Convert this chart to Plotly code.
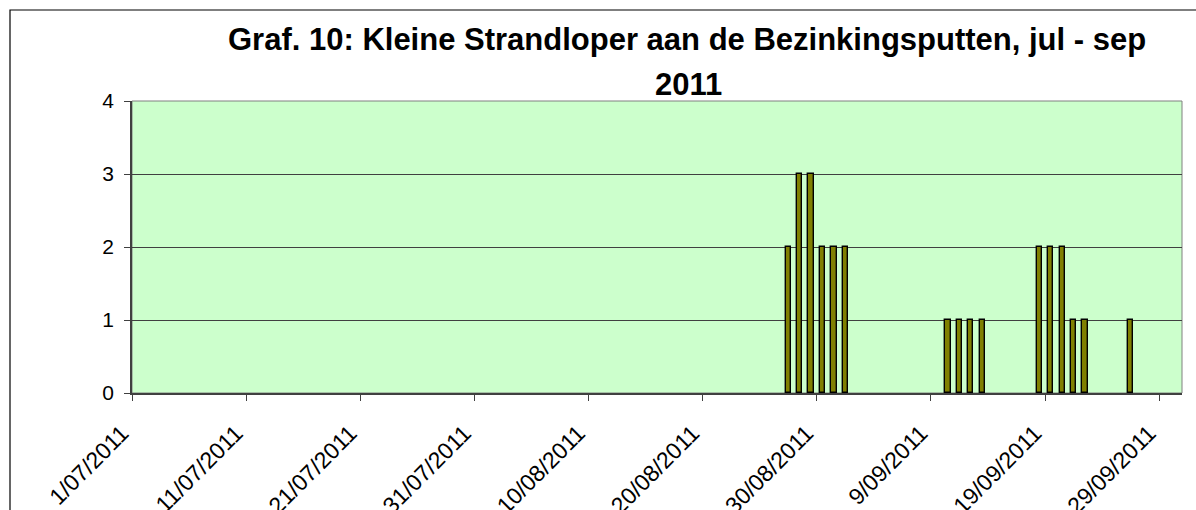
import plotly.graph_objects as go

# ---- data ----
dates = ["2011-08-27", "2011-08-28", "2011-08-29", "2011-08-30", "2011-08-31", "2011-09-01",
         "2011-09-10", "2011-09-11", "2011-09-12", "2011-09-13",
         "2011-09-18", "2011-09-19", "2011-09-20", "2011-09-21", "2011-09-22",
         "2011-09-26"]
counts = [2, 3, 3, 2, 2, 2,
          1, 1, 1, 1,
          2, 2, 2, 1, 1,
          1]
tick_dates = ["2011-07-01", "2011-07-11", "2011-07-21", "2011-07-31", "2011-08-10",
              "2011-08-20", "2011-08-30", "2011-09-09", "2011-09-19", "2011-09-29"]
tick_labels = ["1/07/2011", "11/07/2011", "21/07/2011", "31/07/2011", "10/08/2011",
               "20/08/2011", "30/08/2011", "9/09/2011", "19/09/2011", "29/09/2011"]
title_line1 = "Graf. 10: Kleine Strandloper aan de Bezinkingsputten, jul - sep"
title_line2 = "2011"

W, H = 1196, 510
L, R, T, B = 132, 1182, 101, 393


def px_x(p):
    return (p - L) / (R - L)


def px_y(p):
    return (B - p) / (B - T)


DAY_MS = 86400000
FONT = "Liberation Sans, Arial, sans-serif"

fig = go.Figure()
fig.add_trace(go.Bar(
    x=dates, y=counts,
    xperiod=DAY_MS, xperiodalignment="middle",
    width=0.46 * DAY_MS,
    marker=dict(color="#808000", line=dict(color="#000000", width=1.4)),
    showlegend=False,
))

fig.update_layout(
    width=W, height=H,
    margin=dict(l=L, r=W - R, t=T, b=H - B, pad=0, autoexpand=False),
    paper_bgcolor="white",
    plot_bgcolor="#CCFFCC",
    font=dict(family=FONT, color="black"),
    bargap=0,
    xaxis=dict(
        type="date", automargin=False,
        range=["2011-07-01", "2011-10-01"],
        tickmode="array", tickvals=tick_dates, ticktext=tick_labels,
        tickangle=-45, tickfont=dict(size=23, family=FONT),
        ticks="outside", ticklen=6, tickcolor="#404040", tickwidth=1,
        ticklabelstandoff=10, ticklabelshift=-10,
        showline=True, linecolor="#404040", linewidth=1.5,
        showgrid=False, zeroline=False,
    ),
    yaxis=dict(
        automargin=False,
        range=[0, 4], tickmode="linear", tick0=0, dtick=1,
        tickfont=dict(size=21, family=FONT),
        ticks="outside", ticklen=6, tickcolor="#404040", tickwidth=1,
        ticklabelstandoff=6,
        showline=True, linecolor="#404040", linewidth=1.5,
        showgrid=True, gridcolor="#404040", gridwidth=1,
        zeroline=False,
    ),
    shapes=[
        dict(type="rect", xref="paper", yref="paper", x0=0, x1=1, y0=0, y1=1,
             line=dict(color="#808080", width=1), layer="below"),
        dict(type="rect", xref="paper", yref="paper",
             x0=px_x(10), x1=px_x(1230), y0=px_y(560), y1=px_y(10),
             line=dict(color="black", width=1.2)),
    ],
    annotations=[
        dict(text="<b>" + title_line1 + "</b>", xref="paper", yref="paper",
             x=px_x(687), y=px_y(40), xanchor="center", yanchor="middle",
             showarrow=False, font=dict(size=31, family=FONT, color="black")),
        dict(text="<b>" + title_line2 + "</b>", xref="paper", yref="paper",
             x=px_x(688), y=px_y(84), xanchor="center", yanchor="middle",
             showarrow=False, font=dict(size=31, family=FONT, color="black")),
    ],
)

fig.write_html(
    "out.html",
    config={"displayModeBar": False},
    post_script="document.body.style.margin='0';document.body.style.overflow='hidden';",
)
